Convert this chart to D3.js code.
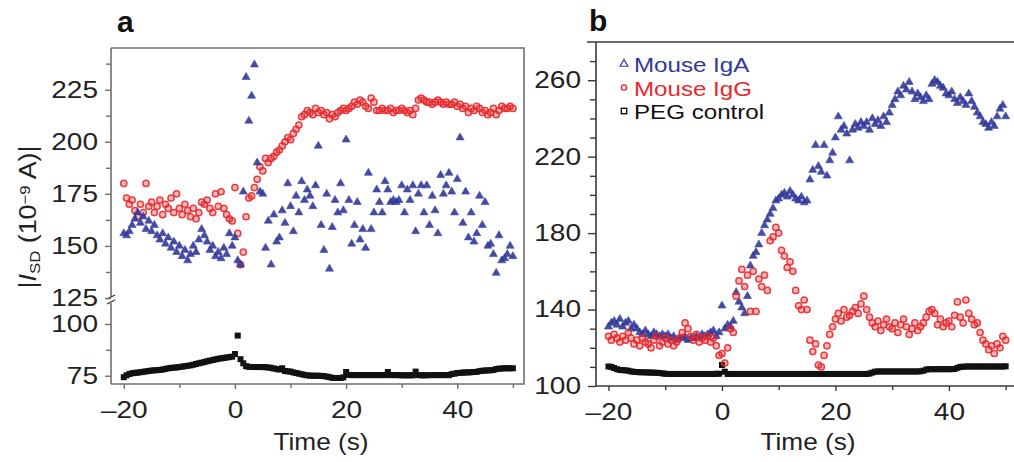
<!DOCTYPE html>
<html>
<head>
<meta charset="utf-8">
<script src="https://cdn.jsdelivr.net/npm/d3@7"></script>
<style>
  html, body { margin: 0; padding: 0; background: #fff; }
  svg { display: block; font-family: "Liberation Sans", Arial, sans-serif; }
</style>
</head>
<body>
<svg id="chart" width="1014" height="462"></svg>
<script>
// sampling grid shared by every series (s)
const times = d3.range(-20, 50.25, 0.5);

// panel a, |I_SD| in 1e-9 A
const igaA = [
  156,155,157,160,163,166,161,164,158,162,
  157,160,155,153,156,151,154,149,152,147,
  150,145,148,143,146,150,147,153,158,155,
  152,148,150,145,147,144,149,146,156,150,
  154,143,141,176,231,210,222,237,190,176,
  175,149,162,141,165,152,154,167,161,180,
  169,157,174,166,181,172,177,174,169,179,
  198,160,148,175,139,159,172,166,180,167,
  201,172,151,160,171,153,158,149,185,158,
  166,177,171,166,181,177,171,172,171,172,
  179,166,177,172,179,157,175,179,166,179,
  160,174,167,156,184,175,179,185,176,166,
  182,202,161,176,154,166,152,156,174,160,
  171,150,151,146,137,155,143,144,146,150,
  145
];
const iggA = [
  180,173,170,172,167,164,170,166,180,169,
  171,166,169,172,165,170,168,173,166,175,
  168,165,170,167,164,168,163,166,171,170,
  172,168,166,175,169,176,168,165,163,162,
  178,156,141,147,164,173,174,178,182,188,
  186,192,190,192,193,195,196,198,200,202,
  201,204,206,208,212,213,215,214,213,216,
  214,215,213,214,211,213,212,214,215,216,
  215,216,217,219,218,220,219,217,216,221,
  219,215,215,216,215,215,216,214,215,215,
  216,215,214,215,213,216,220,221,220,219,
  219,218,219,220,219,218,219,218,218,219,
  217,218,216,217,214,216,215,217,216,214,
  215,213,214,216,213,215,217,216,216,217,
  216
];
const pegA = [
  74.3,75.2,75.8,76.2,76.4,76.5,76.7,76.9,77.1,77.3,
  77.5,77.6,77.7,77.8,78.0,78.3,78.6,78.8,78.9,79.0,
  79.2,79.4,79.6,79.8,80.0,80.3,80.7,81.0,81.3,81.6,
  82.0,82.3,82.6,82.9,83.2,83.4,83.6,83.8,84.0,84.2,
  85.5,94.4,83.0,81.0,79.6,79.3,79.2,79.2,79.2,79.2,
  79.2,79.1,79.0,78.8,78.5,78.2,78.0,78.6,77.3,77.1,
  77.0,76.6,76.3,76.0,75.7,75.4,75.2,75.0,75.0,75.0,
  75.0,74.9,74.8,74.6,74.3,74.0,73.9,73.9,73.9,74.2,
  76.8,75.4,75.3,75.3,75.3,75.3,75.3,75.3,75.3,75.3,
  75.3,75.3,75.3,75.3,75.3,76.8,75.3,75.3,75.3,75.3,
  75.2,75.2,75.2,75.2,75.2,77.0,75.3,75.2,75.2,75.2,
  75.3,75.3,75.3,75.3,75.3,75.3,75.3,75.3,75.8,76.0,
  76.3,76.4,76.5,76.6,76.6,76.7,76.8,76.9,77.2,77.4,
  77.5,77.6,77.6,77.8,78.2,78.4,78.5,78.6,78.6,78.6,
  78.6
];

// panel b
const igaB = [
  131,133,134,132,135,131,133,134,130,132,
  130,128,127,129,127,126,128,127,126,127,
  126,127,125,126,124,125,125,126,124,125,
  125,126,125,127,126,127,128,129,126,128,
  142,130,132,131,134,149,144,141,138,147,
  163,168,170,174,180,184,187,190,193,197,
  198,200,201,199,202,200,198,197,199,196,
  197,208,213,226,215,212,226,210,218,222,
  230,241,234,236,232,218,234,237,235,238,
  236,238,234,240,237,239,236,241,238,243,
  247,250,254,252,257,255,259,254,250,253,
  251,249,252,250,258,260,259,257,256,253,
  252,254,250,248,251,249,247,253,249,246,
  243,241,238,237,235,238,236,241,245,247,
  241
];
const iggB = [
  126,124,127,125,123,126,124,128,125,122,
  124,121,125,123,122,120,124,126,121,123,
  125,122,124,121,123,125,128,133,130,126,
  124,127,123,125,124,126,123,125,121,116,
  117,112,120,130,128,147,155,161,152,158,
  139,160,139,156,152,158,150,176,178,183,
  180,171,168,162,165,160,150,142,140,145,
  140,124,118,122,111,110,116,121,127,131,
  135,138,134,140,136,137,139,141,138,143,
  147,140,136,133,131,134,129,132,135,131,
  130,133,128,132,135,131,127,130,133,129,
  131,133,136,139,140,138,132,135,131,133,
  134,131,137,144,136,133,145,138,135,132,
  133,128,124,122,119,121,117,122,120,126,
  124
];
const pegB = [
  110.2,110.0,109.4,108.8,108.4,108.3,108.2,108.0,107.6,107.4,
  107.3,107.2,107.2,107.1,107.1,107.0,107.0,106.9,106.8,106.6,
  106.4,106.3,106.3,106.3,106.3,106.3,106.3,106.3,106.3,106.3,
  106.3,106.3,106.3,106.3,106.3,106.3,106.3,106.3,106.4,106.4,
  111.0,107.5,106.3,106.3,106.3,106.3,106.3,106.3,106.3,106.3,
  106.3,106.3,106.3,106.3,106.3,106.3,106.3,106.3,106.3,106.3,
  106.3,106.3,106.3,106.3,106.3,106.3,106.3,106.3,106.3,106.3,
  106.3,106.3,106.3,106.3,106.3,106.3,106.3,106.3,106.3,106.3,
  106.3,106.3,106.3,106.3,106.3,106.3,106.3,106.3,106.3,106.3,
  106.3,106.3,106.5,107.0,107.5,107.6,107.6,107.6,107.6,107.6,
  107.6,107.6,107.6,107.6,107.6,107.6,107.6,107.6,107.6,107.6,
  107.7,108.0,108.6,108.8,108.8,108.8,108.8,108.8,108.8,108.8,
  108.8,108.8,108.9,109.5,110.0,110.1,110.2,110.2,110.2,110.2,
  110.2,110.2,110.2,110.2,110.2,110.2,110.2,110.2,110.2,110.2,
  110.3
];

// ticks
const xMajor = [-20, 0, 20, 40];
const xMinor = [-10, 10, 30, 50];
const yMajorA = [75, 100, 125, 150, 175, 200, 225];
const yMinorA = [87.5, 137.5, 162.5, 187.5, 212.5, 237.5];
const yMajorB = [100, 140, 180, 220, 260];
const yMinorB = [110, 120, 130, 150, 160, 170, 190, 200, 210, 230, 240, 250, 270];
const legendLabels = ["Mouse IgA", "Mouse IgG", "PEG control"];

const BLUE = "#31389a", RED = "#e8282c", BLACK = "#111";
const svg = d3.select("#chart");

// the original lettering is set a little wider than Liberation Sans
function stretch(sel, k) {
  sel.each(function () {
    const t = d3.select(this);
    const x = +t.attr("x") || 0, y = +t.attr("y") || 0;
    t.attr("x", null).attr("y", null)
      .attr("transform", `translate(${x},${y}) scale(${k},1)`);
  });
}

const fmtX = d => d < 0 ? "\u2013" + Math.abs(d) : String(d);

function addAxis(g, axisFn, scale, major, minor, o) {
  g.append("g")
    .attr("transform", o.translate)
    .call(axisFn(scale).tickValues(minor).tickSize(o.minorLen).tickFormat(""))
    .call(s => s.select(".domain").remove())
    .selectAll("line").attr("stroke", o.color).attr("stroke-width", 1.4);
  const m = g.append("g")
    .attr("transform", o.translate)
    .call(axisFn(scale).tickValues(major).tickSize(o.majorLen).tickPadding(o.pad).tickFormat(o.fmt));
  m.select(".domain").remove();
  m.attr("font-size", null).attr("font-family", null);
  m.selectAll("line").attr("stroke", o.color).attr("stroke-width", 1.4);
  m.selectAll("text").attr("fill", "#222").style("font-size", "23px");
  stretch(m.selectAll("text"), 1.22);
}

function drawSeries(g, x, y, vals, kind) {
  const pts = vals.map((v, i) => ({ t: times[i], v }));
  if (kind === "tri") {
    g.append("g").selectAll("path").data(pts).enter().append("path")
      .attr("d", d3.symbol().type(d3.symbolTriangle).size(28))
      .attr("transform", d => `translate(${x(d.t)},${y(d.v)})`)
      .attr("fill", BLUE).attr("stroke", BLUE).attr("stroke-width", 0.6)
      .attr("opacity", 0.9);
  } else if (kind === "circ") {
    g.append("g").selectAll("circle").data(pts).enter().append("circle")
      .attr("cx", d => x(d.t)).attr("cy", d => y(d.v)).attr("r", 3.1)
      .attr("fill", RED).attr("fill-opacity", 0.35)
      .attr("stroke", RED).attr("stroke-width", 1.5)
      .attr("opacity", 0.9);
  } else {
    g.append("g").selectAll("rect").data(pts).enter().append("rect")
      .attr("x", d => x(d.t) - 3).attr("y", d => y(d.v) - 3)
      .attr("width", 6).attr("height", 6).attr("fill", BLACK);
  }
}

// ---------- panel a ----------
const xA = d3.scaleLinear().domain([-22.3, 52]).range([111, 524]);
// broken axis: 100-125 squeezed into half a tick interval
const yA = d3.scaleLinear().domain([71, 100, 125, 245]).range([384, 324, 298, 48]);
const gA = svg.append("g");
const colA = "#6f6f6f";

drawSeries(gA, xA, yA, pegA, "sq");
drawSeries(gA, xA, yA, iggA, "circ");
drawSeries(gA, xA, yA, igaA, "tri");

// frame
gA.append("path")
  .attr("d", `M${xA.range()[0]},${yA(245)}H${xA.range()[1]}V${yA(71)}H${xA.range()[0]}`)
  .attr("fill", "none").attr("stroke", colA).attr("stroke-width", 1.6);
const brk = yA(125);
gA.append("path")
  .attr("d", `M111,48V${brk - 1}M111,${brk + 5}V384`)
  .attr("fill", "none").attr("stroke", colA).attr("stroke-width", 1.6);
gA.append("path")
  .attr("d", `M107,${brk + 1}L115,${brk - 3}M107,${brk + 6}L115,${brk + 2}`)
  .attr("fill", "none").attr("stroke", "#333").attr("stroke-width", 1.3);

addAxis(gA, d3.axisLeft, yA, yMajorA, yMinorA,
  { translate: "translate(111,0)", minorLen: 5, majorLen: 6, pad: 7, color: colA, fmt: d3.format("d") });
addAxis(gA, d3.axisBottom, xA, xMajor, xMinor,
  { translate: "translate(0,384)", minorLen: 4, majorLen: 5, pad: 13, color: colA, fmt: fmtX });

const labA = gA.append("text")
  .attr("text-anchor", "middle").attr("fill", "#222").style("font-size", "24px")
  .attr("transform", "translate(36,217) rotate(-90) scale(1.12,1)");
labA.append("tspan").text("|");
labA.append("tspan").style("font-style", "italic").text("I");
labA.append("tspan").attr("baseline-shift", "-22%").style("font-size", "15px").text("SD");
labA.append("tspan").text(" (10");
labA.append("tspan").attr("baseline-shift", "38%").style("font-size", "15px").text("\u22129");
labA.append("tspan").text(" A)|");

gA.append("text").attr("x", 321).attr("y", 450).attr("text-anchor", "middle")
  .attr("fill", "#222").style("font-size", "23px").text("Time (s)")
  .call(s => stretch(s, 1.14));
gA.append("text").attr("x", 117).attr("y", 32).attr("fill", "#111")
  .style("font-size", "30px").style("font-weight", "bold").text("a");

// ---------- panel b ----------
const xB = d3.scaleLinear().domain([-22.2, 52]).range([596, 1017]);
const yB = d3.scaleLinear().domain([100, 280]).range([386, 42]);
const gB = svg.append("g");
const colB = "#3a3a3a";

drawSeries(gB, xB, yB, pegB, "sq");
drawSeries(gB, xB, yB, igaB, "tri");
drawSeries(gB, xB, yB, iggB, "circ");

gB.append("path")
  .attr("d", `M587,${yB(280)}H1014M596,${yB(280)}V${yB(100)}H1014`)
  .attr("fill", "none").attr("stroke", colB).attr("stroke-width", 1.6);

addAxis(gB, d3.axisLeft, yB, yMajorB, yMinorB,
  { translate: "translate(596,0)", minorLen: 6, majorLen: 8, pad: 7, color: colB, fmt: d3.format("d") });
addAxis(gB, d3.axisBottom, xB, xMajor, xMinor,
  { translate: `translate(0,${yB(100)})`, minorLen: 4, majorLen: 5, pad: 13, color: colB, fmt: fmtX });

gB.append("text").attr("x", 808).attr("y", 450).attr("text-anchor", "middle")
  .attr("fill", "#222").style("font-size", "23px").text("Time (s)")
  .call(s => stretch(s, 1.14));
gB.append("text").attr("x", 589).attr("y", 31).attr("fill", "#111")
  .style("font-size", "30px").style("font-weight", "bold").text("b");

// legend
const legColors = [BLUE, RED, BLACK];
const leg = gB.append("g").selectAll("g").data(legendLabels).enter().append("g")
  .attr("transform", (d, i) => `translate(624,${64 + i * 23.5})`);
leg.each(function (d, i) {
  const g = d3.select(this);
  if (i === 0) {
    g.append("path").attr("d", d3.symbol().type(d3.symbolTriangle).size(26))
      .attr("fill", "none").attr("stroke", BLUE).attr("stroke-width", 1.2);
  } else if (i === 1) {
    g.append("circle").attr("r", 2.6).attr("fill", "none").attr("stroke", RED).attr("stroke-width", 1.4);
  } else {
    g.append("rect").attr("x", -2.7).attr("y", -2.7).attr("width", 5.4).attr("height", 5.4)
      .attr("fill", "none").attr("stroke", BLACK).attr("stroke-width", 1.4);
  }
  g.append("text").attr("x", 10).attr("y", 8).attr("fill", legColors[i])
    .style("font-size", "21px").text(d).call(s => stretch(s, 1.15));
});
</script>
</body>
</html>
